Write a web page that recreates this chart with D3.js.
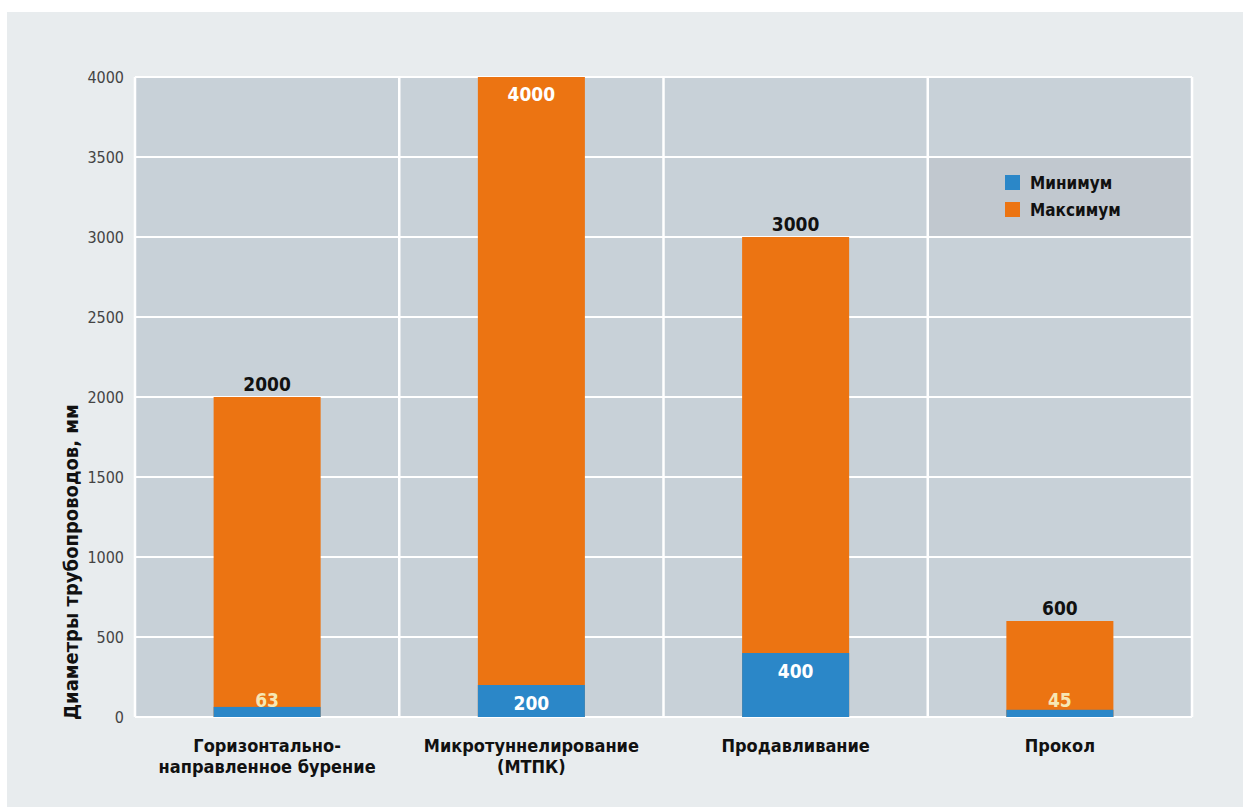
<!DOCTYPE html>
<html>
<head>
<meta charset="utf-8">
<script src="https://cdn.jsdelivr.net/npm/d3@7.9.0/dist/d3.min.js"></script>
<style>
  body { margin: 0; background: #fff; }
  svg { display: block; }
  text { font-family: "Liberation Sans Narrow", "DejaVu Sans Condensed", sans-serif; }
</style>
</head>
<body>
<svg width="1243" height="807"></svg>
<script>
// data
const categories = [
  ['Горизонтально-', 'направленное бурение'],
  ['Микротуннелирование', '(МТПК)'],
  ['Продавливание'],
  ['Прокол']
];
const minValues = [63, 200, 400, 45];
const maxValues = [2000, 4000, 3000, 600];
const yTicks = [0, 500, 1000, 1500, 2000, 2500, 3000, 3500, 4000];
const seriesNames = ['Минимум', 'Максимум'];

const orange = '#ec7412';
const blue = '#2b87c8';

const svg = d3.select('svg');

// light panel
svg.append('rect').attr('x', 7).attr('y', 12).attr('width', 1236).attr('height', 795).attr('fill', '#e8ecee');

const plotLeft = 135, plotRight = 1192, plotTop = 77, plotBottom = 717;

let x = d3.scaleBand()
  .domain(d3.range(categories.length))
  .range([plotLeft, plotRight])
  .paddingInner(0.595)
  .paddingOuter(0.2975);
let y = d3.scaleLinear().domain([0, 4000]).range([plotBottom, plotTop]);

// plot background
svg.append('rect').attr('x', plotLeft).attr('y', plotTop).attr('width', plotRight - plotLeft).attr('height', plotBottom - plotTop).attr('fill', '#c8d1d8');

// legend box background (between 3000 and 3500 in last column)
let step = x.step();
let colEdge = (i) => plotLeft + i * step;
svg.append('rect')
  .attr('x', colEdge(3)).attr('y', y(3500))
  .attr('width', plotRight - colEdge(3)).attr('height', y(3000) - y(3500))
  .attr('fill', '#c1c8cf');

// horizontal grid
svg.append('g').selectAll('line').data(yTicks).join('line')
  .attr('x1', plotLeft).attr('x2', plotRight)
  .attr('y1', d => y(d)).attr('y2', d => y(d))
  .attr('stroke', '#fff').attr('stroke-width', 2);

// vertical separators
svg.append('g').selectAll('line').data(d3.range(categories.length + 1)).join('line')
  .attr('x1', d => colEdge(d)).attr('x2', d => colEdge(d))
  .attr('y1', plotTop).attr('y2', plotBottom)
  .attr('stroke', '#fff').attr('stroke-width', 2.5);

// y axis labels
let yAxis = d3.axisLeft(y).tickValues(yTicks).tickFormat(d3.format('d')).tickSize(0).tickPadding(11);
let yg = svg.append('g').attr('transform', `translate(${plotLeft},0)`).call(yAxis);
yg.select('.domain').remove();
yg.selectAll('text').attr('font-size', 16).attr('fill', '#444')
  .attr('font-family', '"Liberation Sans Narrow", "DejaVu Sans Condensed", sans-serif');

// axis title
svg.append('text')
  .attr('transform', `translate(78,${plotBottom + 3}) rotate(-90)`)
  .attr('font-size', 20).attr('font-weight', 'bold').attr('fill', '#111')
  .text('Диаметры трубопроводов, мм');

// bars: max (orange) then min (blue) from zero
let bars = svg.append('g');
bars.selectAll('rect.max').data(maxValues).join('rect')
  .attr('class', 'max')
  .attr('x', (d, i) => x(i)).attr('width', x.bandwidth())
  .attr('y', d => y(d)).attr('height', d => y(0) - y(d))
  .attr('fill', orange);
bars.selectAll('rect.min').data(minValues).join('rect')
  .attr('class', 'min')
  .attr('x', (d, i) => x(i)).attr('width', x.bandwidth())
  .attr('y', d => y(d)).attr('height', d => y(0) - y(d))
  .attr('fill', blue);

// max labels
svg.append('g').selectAll('text').data(maxValues).join('text')
  .attr('x', (d, i) => x(i) + x.bandwidth() / 2)
  .attr('y', d => d >= 4000 ? y(d) + 24 : y(d) - 6)
  .attr('text-anchor', 'middle')
  .attr('font-size', 19).attr('font-weight', 'bold')
  .attr('fill', d => d >= 4000 ? '#fff' : '#111')
  .text(d => d);

// min labels
svg.append('g').selectAll('text').data(minValues).join('text')
  .attr('x', (d, i) => x(i) + x.bandwidth() / 2)
  .attr('y', d => d > 100 ? y(d) + 25 : plotBottom - 10)
  .attr('text-anchor', 'middle')
  .attr('font-size', 19).attr('font-weight', 'bold')
  .attr('fill', d => d > 100 ? '#fff' : '#f6e7b4')
  .text(d => d);

// category labels
let cat = svg.append('g').selectAll('text').data(categories).join('text')
  .attr('x', (d, i) => x(i) + x.bandwidth() / 2)
  .attr('y', 752)
  .attr('text-anchor', 'middle')
  .attr('font-size', 18).attr('font-weight', 'bold').attr('fill', '#111');
cat.selectAll('tspan').data(d => d).join('tspan')
  .attr('x', function () { return this.parentNode.getAttribute('x'); })
  .attr('dy', (d, i) => i === 0 ? 0 : 21)
  .text(d => d);

// legend
let legend = svg.append('g').attr('transform', 'translate(1005,175)');
let legColors = [blue, orange];
seriesNames.forEach((name, i) => {
  legend.append('rect').attr('x', 0).attr('y', i * 27).attr('width', 15).attr('height', 15).attr('fill', legColors[i]);
  legend.append('text').attr('x', 25).attr('y', i * 27 + 14)
    .attr('font-size', 17).attr('font-weight', 'bold').attr('fill', '#111')
    .text(name);
});
</script>
</body>
</html>
